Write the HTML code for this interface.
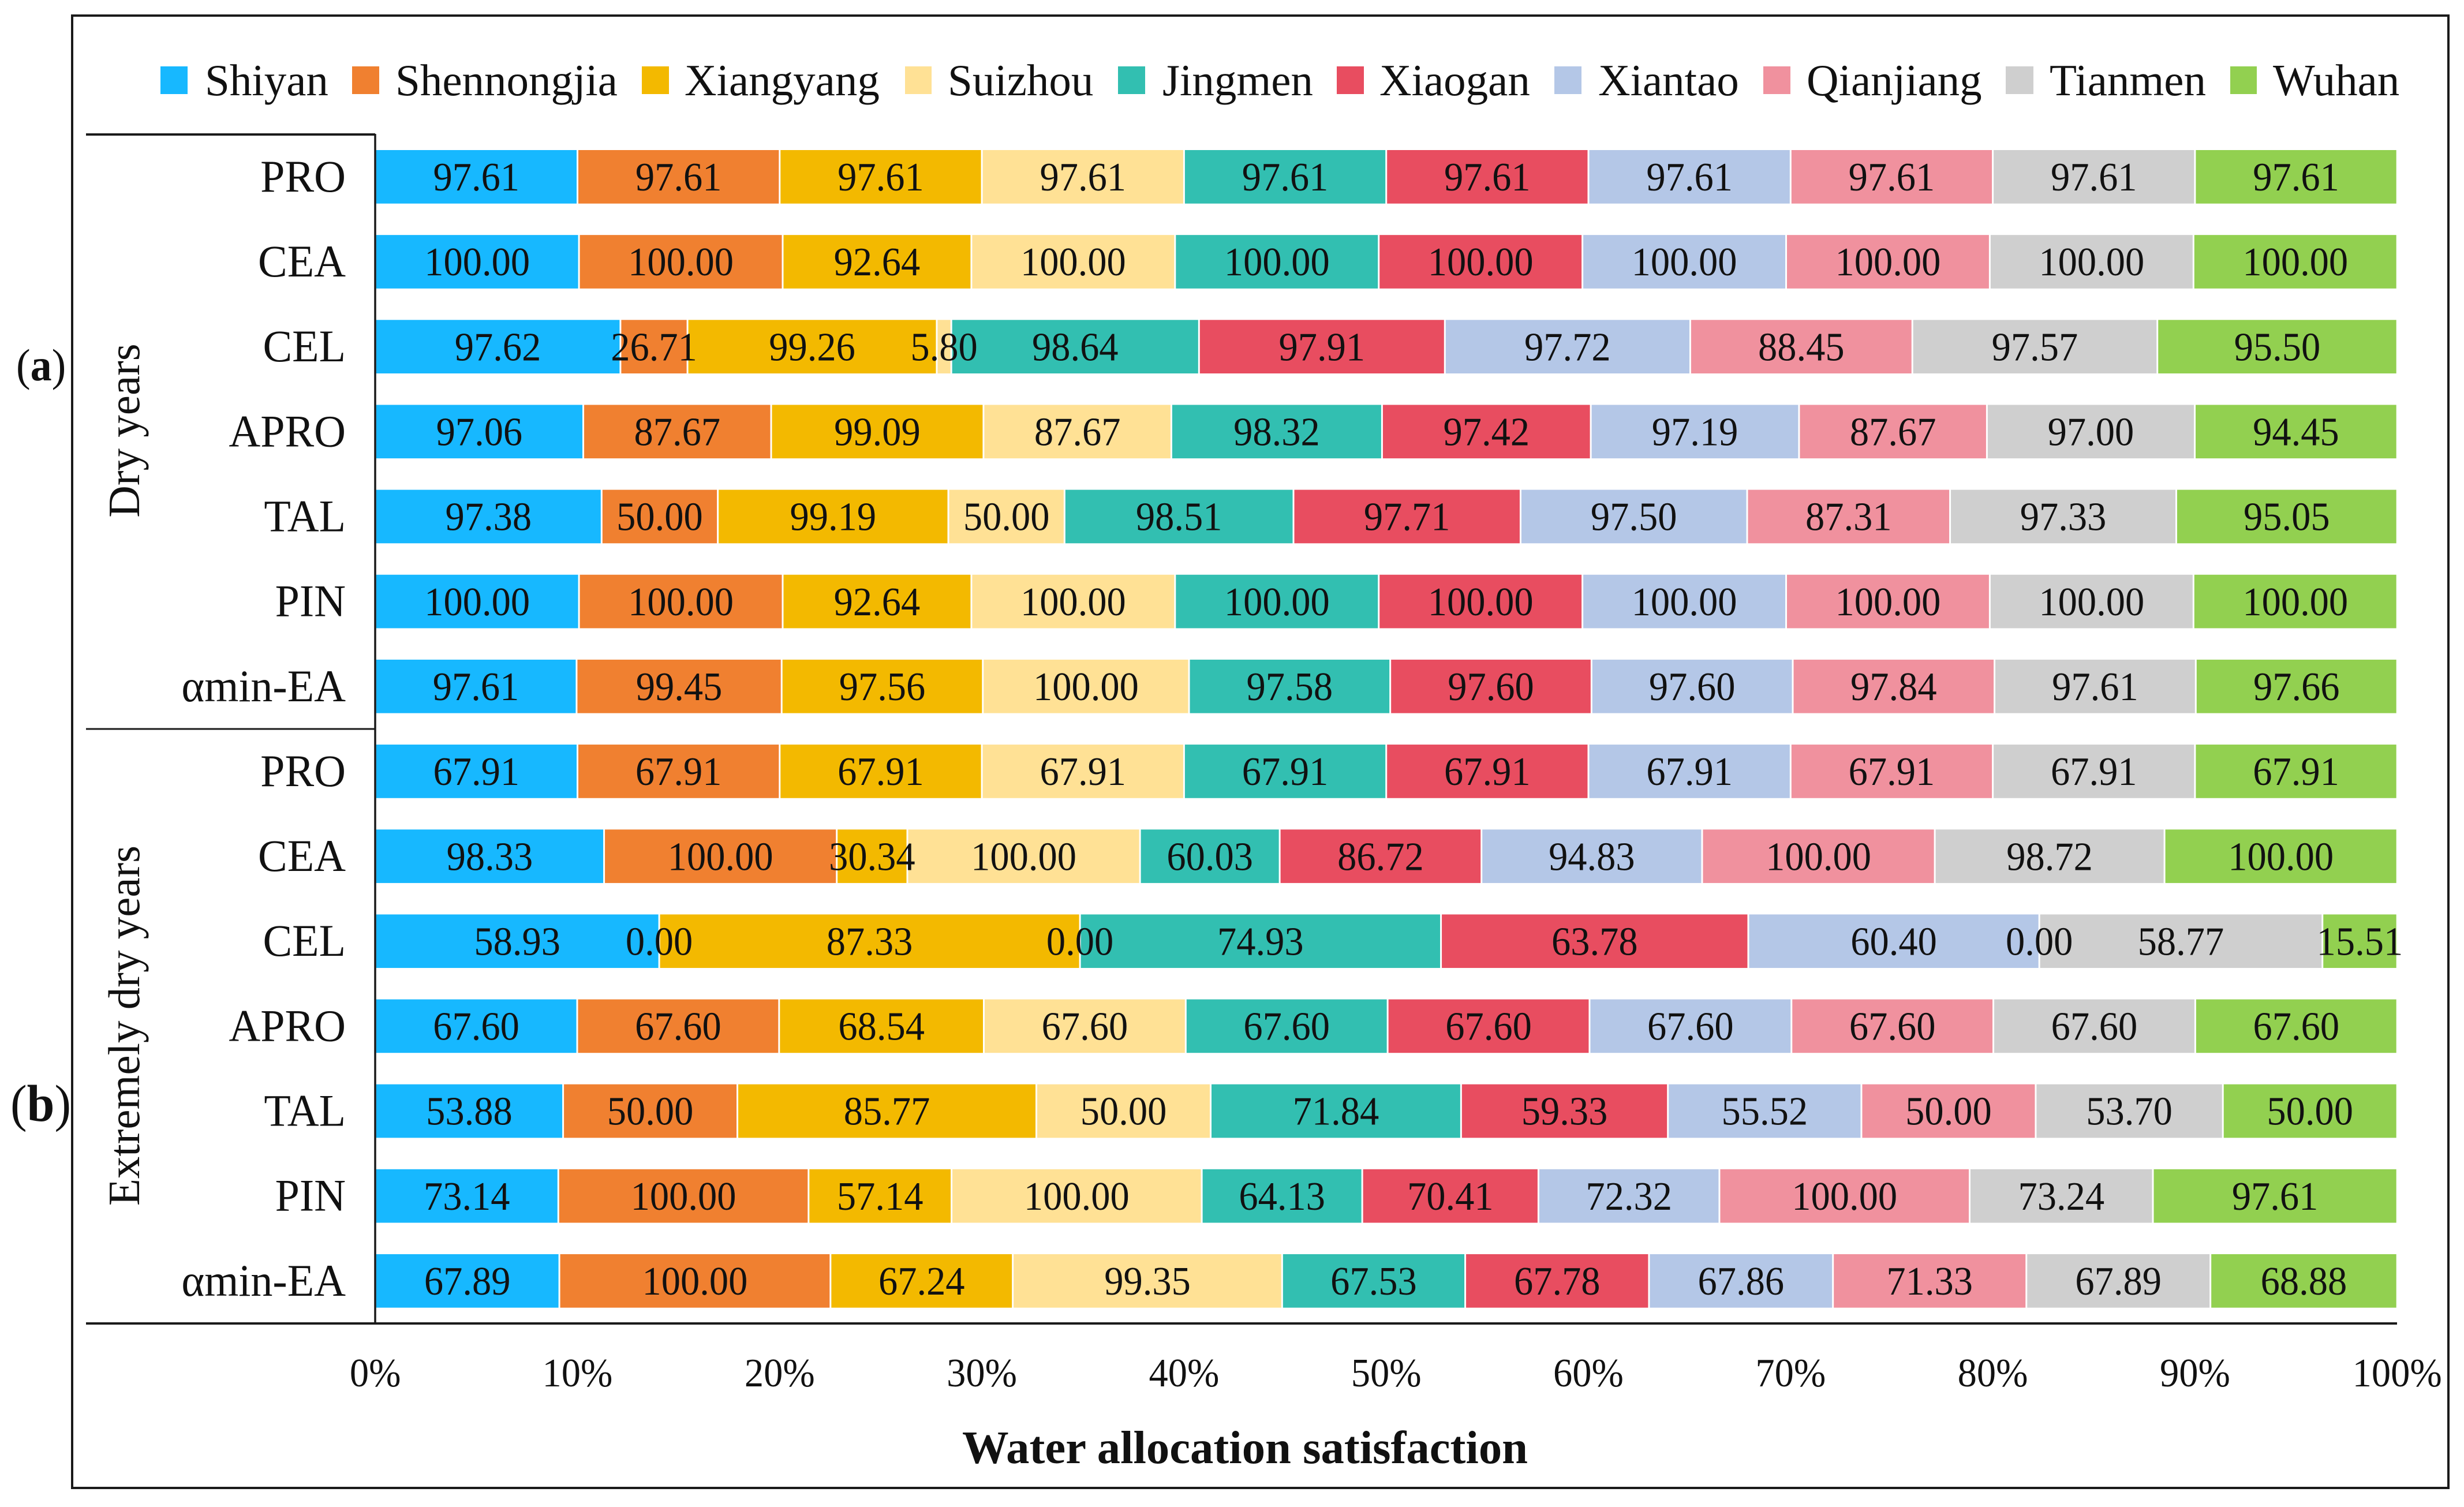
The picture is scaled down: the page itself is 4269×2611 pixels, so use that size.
<!DOCTYPE html>
<html>
<head>
<meta charset="utf-8">
<title>Water allocation satisfaction</title>
<style>
html,body{margin:0;padding:0;background:#fff;}
svg{display:block;}
text{font-family:"Liberation Serif",serif;fill:#111;}
</style>
</head>
<body>
<svg id="chart" xmlns="http://www.w3.org/2000/svg" width="4269" height="2611" viewBox="0 0 4269 2611">
  <rect x="0" y="0" width="4269" height="2611" fill="#fff"/>
  <rect x="125" y="27" width="4117" height="2551" fill="none" stroke="#1a1a1a" stroke-width="4"/>

  <g font-size="77">
    <rect x="278" y="115" width="47" height="48" fill="#17B8FF"/>
    <text x="355" y="165">Shiyan</text>
    <rect x="610" y="115" width="47" height="48" fill="#F08030"/>
    <text x="685" y="165">Shennongjia</text>
    <rect x="1112" y="115" width="47" height="48" fill="#F3B900"/>
    <text x="1186" y="165">Xiangyang</text>
    <rect x="1568" y="115" width="46" height="48" fill="#FFE195"/>
    <text x="1642" y="165">Suizhou</text>
    <rect x="1937" y="115" width="47" height="48" fill="#32BFB1"/>
    <text x="2014" y="165">Jingmen</text>
    <rect x="2316" y="115" width="47" height="48" fill="#E84D60"/>
    <text x="2390" y="165">Xiaogan</text>
    <rect x="2693" y="115" width="47" height="48" fill="#B4C7E7"/>
    <text x="2769" y="165">Xiantao</text>
    <rect x="3055" y="115" width="47" height="48" fill="#F0919E"/>
    <text x="3130" y="165">Qianjiang</text>
    <rect x="3475" y="115" width="48" height="48" fill="#CFCFCF"/>
    <text x="3551" y="165">Tianmen</text>
    <rect x="3864" y="115" width="46" height="48" fill="#92D050"/>
    <text x="3938" y="165">Wuhan</text>
  </g>

  <g id="bars"></g>
  <g id="values" font-size="66.5" text-anchor="middle"></g>
  <g id="categories" font-size="76" text-anchor="end"></g>
  <g id="ticks" font-size="66.5" text-anchor="middle"></g>

  <line x1="149" y1="233" x2="650" y2="233" stroke="#1a1a1a" stroke-width="4"/>
  <line x1="149" y1="1263" x2="650" y2="1263" stroke="#1a1a1a" stroke-width="3"/>
  <line x1="650" y1="232" x2="650" y2="2293" stroke="#1a1a1a" stroke-width="3.5"/>
  <line x1="149" y1="2293" x2="4153" y2="2293" stroke="#1a1a1a" stroke-width="4"/>

  <text font-size="77" text-anchor="middle" transform="translate(241,746) rotate(-90)">Dry years</text>
  <text font-size="77" text-anchor="middle" transform="translate(241,1777) rotate(-90)">Extremely dry years</text>
  <text font-size="74" transform="translate(28,659) scale(1,1.06)">(<tspan font-weight="bold">a</tspan>)</text>
  <text font-size="86" transform="translate(18,1942) scale(1,1.05)">(<tspan font-weight="bold">b</tspan>)</text>
  <text font-size="80.7" font-weight="bold" text-anchor="middle" x="2157" y="2535">Water allocation satisfaction</text>
</svg>

<script>
const cities = ["Shiyan","Shennongjia","Xiangyang","Suizhou","Jingmen","Xiaogan","Xiantao","Qianjiang","Tianmen","Wuhan"];
const methods = ["PRO","CEA","CEL","APRO","TAL","PIN","αmin-EA","PRO","CEA","CEL","APRO","TAL","PIN","αmin-EA"];
const tickValues = [0,10,20,30,40,50,60,70,80,90,100];

const dryPRO  = [97.61,97.61,97.61,97.61,97.61,97.61,97.61,97.61,97.61,97.61];
const dryCEA  = [100.00,100.00,92.64,100.00,100.00,100.00,100.00,100.00,100.00,100.00];
const dryCEL  = [97.62,26.71,99.26,5.80,98.64,97.91,97.72,88.45,97.57,95.50];
const dryAPRO = [97.06,87.67,99.09,87.67,98.32,97.42,97.19,87.67,97.00,94.45];
const dryTAL  = [97.38,50.00,99.19,50.00,98.51,97.71,97.50,87.31,97.33,95.05];
const dryPIN  = [100.00,100.00,92.64,100.00,100.00,100.00,100.00,100.00,100.00,100.00];
const dryEA   = [97.61,99.45,97.56,100.00,97.58,97.60,97.60,97.84,97.61,97.66];

const extPRO  = [67.91,67.91,67.91,67.91,67.91,67.91,67.91,67.91,67.91,67.91];
const extCEA  = [98.33,100.00,30.34,100.00,60.03,86.72,94.83,100.00,98.72,100.00];
const extCEL  = [58.93,0.00,87.33,0.00,74.93,63.78,60.40,0.00,58.77,15.51];
const extAPRO = [67.60,67.60,68.54,67.60,67.60,67.60,67.60,67.60,67.60,67.60];
const extTAL  = [53.88,50.00,85.77,50.00,71.84,59.33,55.52,50.00,53.70,50.00];
const extPIN  = [73.14,100.00,57.14,100.00,64.13,70.41,72.32,100.00,73.24,97.61];
const extEA   = [67.89,100.00,67.24,99.35,67.53,67.78,67.86,71.33,67.89,68.88];

const rows = [dryPRO,dryCEA,dryCEL,dryAPRO,dryTAL,dryPIN,dryEA,extPRO,extCEA,extCEL,extAPRO,extTAL,extPIN,extEA];
const palette = ["#17B8FF","#F08030","#F3B900","#FFE195","#32BFB1","#E84D60","#B4C7E7","#F0919E","#CFCFCF","#92D050"];

const NS = "http://www.w3.org/2000/svg";
function xScale(pct){ return 650.2 + pct / 100 * 3503; }
function rowTop(i){ return 260 + i * 147.15; }
const ROW_H = 92.7;
function rowMid(i){ return rowTop(i) + ROW_H / 2; }
function make(tag, attrs){
  const el = document.createElementNS(NS, tag);
  for (const k in attrs) el.setAttribute(k, attrs[k]);
  return el;
}
function slug(s){ return s.toLowerCase().replace(/[^a-z0-9]+/g, '-'); }

const barsG = document.getElementById('bars');
const valuesG = document.getElementById('values');
const catsG = document.getElementById('categories');
const ticksG = document.getElementById('ticks');

rows.forEach(function(row, r){
  const total = row.reduce(function(a,b){ return a + b; }, 0);
  const mid = rowMid(r);
  const group = r < 7 ? 'dry' : 'extremely-dry';

  const cat = make('text', {transform: 'translate(599,' + (mid + 25.5) + ') scale(1,1.03)'});
  cat.textContent = methods[r];
  
  
  catsG.appendChild(cat);

  let cum = 0;
  row.forEach(function(v, c){
    const x0 = xScale(cum / total * 100);
    const x1 = xScale((cum + v) / total * 100);
    const inset = 1.5;
    const left = x0 + inset;
    const right = x1 - inset;
    const rect = make('rect', {x: left, y: rowTop(r), width: Math.max(0, right - left), height: ROW_H, fill: palette[c]});
    
    
    barsG.appendChild(rect);

    const label = make('text', {transform: 'translate(' + ((x0 + x1) / 2) + ',' + (mid + 23.7) + ') scale(1,1.05)'});
    label.textContent = v.toFixed(2);
    
    
    valuesG.appendChild(label);

    cum += v;
  });
});

tickValues.forEach(function(t){
  const tick = make('text', {transform: 'translate(' + xScale(t) + ',2402) scale(1,1.05)'});
  tick.textContent = t + '%';
  
  
  ticksG.appendChild(tick);
});
</script>
</body>
</html>
